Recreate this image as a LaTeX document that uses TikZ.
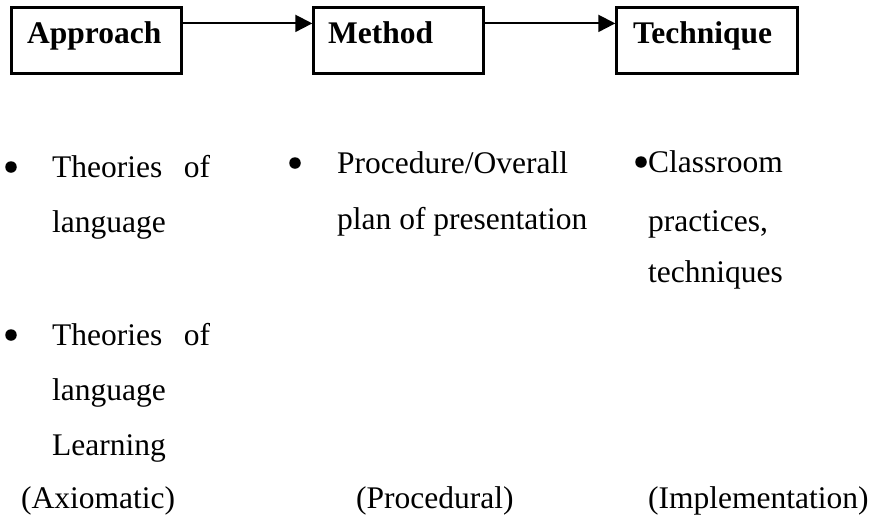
\documentclass[tikz,border=0pt]{standalone}
\usepackage{fontspec}
\setmainfont{Liberation Serif}
\usetikzlibrary{arrows.meta,calc}
\begin{document}
\begin{tikzpicture}[x=1pt,y=-1pt,
  every node/.style={font=\fontsize{31.5}{38}\selectfont},
  boxnode/.style={draw, line width=2.4pt, rectangle, inner sep=0pt},
  lbl/.style={anchor=base west, inner sep=0pt, font=\fontsize{31.5}{38}\selectfont\bfseries},
  txt/.style={anchor=base west, inner sep=0pt},
  dotnode/.style={circle, fill=black, inner sep=0pt, minimum size=11.5pt},
  arr/.style={line width=2pt, -{Triangle[length=17pt,width=17pt]}}]
\useasboundingbox (0,0) rectangle (873,523);
% boxes
\node[boxnode, minimum width=170pt, minimum height=66pt] (a) at (96.5,40.5) {};
\node[boxnode, minimum width=170pt, minimum height=66pt] (m) at (398.5,40.5) {};
\node[boxnode, minimum width=181pt, minimum height=66pt] (t) at (707,40.5) {};
\node[lbl] (al) at (27,43) {Approach};
\node[lbl] (ml) at (328,43) {Method};
\node[lbl] (tl) at (633,43) {Technique};
% arrows
\draw[arr] ($(a.north east)!0.25!(a.south east)$) -- ($(m.north west)!0.25!(m.south west)$);
\draw[arr] ($(m.north east)!0.25!(m.south east)$) -- ($(t.north west)!0.25!(t.south west)$);
% column 1
\node[dotnode] (b1) at (11,167) {};
\node[txt] (c1a) at (52,177) {\hbox to 158pt{Theories\hfill of}};
\node[txt] (c1b) at (52,232) {language};
\node[dotnode] (b2) at (11,335) {};
\node[txt] (c1c) at (52,345) {\hbox to 158pt{Theories\hfill of}};
\node[txt] (c1d) at (52,400) {language};
\node[txt] (c1e) at (52,455) {Learning};
\node[txt] (c1f) at (21,508) {(Axiomatic)};
% column 2
\node[dotnode] (b3) at (295,163) {};
\node[txt] (c2a) at (337,173) {Procedure/Overall};
\node[txt] (c2b) at (337,229) {plan of presentation};
\node[txt] (c2c) at (356,508) {(Procedural)};
% column 3
\node[dotnode] (b4) at (641,162) {};
\node[txt] (c3a) at (648,172) {Classroom};
\node[txt] (c3b) at (648,231) {practices,};
\node[txt] (c3c) at (648,282) {techniques};
\node[txt] (c3d) at (648,508) {(Implementation)};
\end{tikzpicture}
\end{document}
